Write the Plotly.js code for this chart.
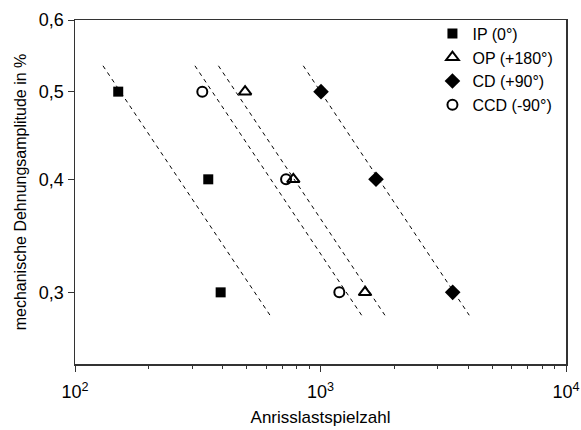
<!DOCTYPE html>
<html>
<head>
<meta charset="utf-8">
<script src="https://cdn.plot.ly/plotly-3.0.1.min.js"></script>
<style>html,body{margin:0;padding:0;background:#fff;}#chart{width:581px;height:430px;}</style>
</head>
<body>
<div id="chart"></div>
<script>
// Measured strain levels (%) and crack-initiation cycles
const strain = [0.5, 0.4, 0.3];
const cyclesIP = [150, 349, 392];
const cyclesOP = [493, 775, 1518];
const cyclesCD = [1005, 1683, 3455];
const cyclesCCD = [330, 724, 1193];

// Dashed fit lines (strain at ends, cycles at ends)
const fitStrain = [0.534, 0.283];
const fitIP = [130, 623];
const fitCCD = [308, 1471];
const fitOP = [384, 1830];
const fitCD = [851, 4036];

// Tick labels
const xTickVals = [100, 1000, 10000];
const xTickText = ['10<sup>2</sup>', '10<sup>3</sup>', '10<sup>4</sup>'];
const xMinorVals = [200, 300, 400, 500, 600, 700, 800, 900, 2000, 3000, 4000, 5000, 6000, 7000, 8000, 9000];
const yTickVals = [0.3, 0.4, 0.5, 0.6];
const yTickText = ['0,3', '0,4', '0,5', '0,6'];
const yMin = 0.25, yMax = 0.6;

const seriesNames = ['IP (0°)', 'OP (+180°)', 'CD (+90°)', 'CCD (-90°)'];

const font = 'Liberation Sans, Arial, sans-serif';
const axisColor = '#333';

function fitLine(xs) {
  return {x: xs, y: fitStrain, mode: 'lines', showlegend: false, hoverinfo: 'skip',
          line: {color: '#000', width: 1, dash: '4px,4px'}};
}

const traces = [
  fitLine(fitIP), fitLine(fitCCD), fitLine(fitOP), fitLine(fitCD),
  {x: cyclesIP, y: strain, mode: 'markers', name: seriesNames[0],
   marker: {symbol: 'square', size: 10, color: '#000'}},
  {x: cyclesOP, y: strain, mode: 'markers', name: seriesNames[1],
   marker: {symbol: 'triangle-up-open', size: 11, color: '#000', line: {width: 2, color: '#000'}}},
  {x: cyclesCD, y: strain, mode: 'markers', name: seriesNames[2],
   marker: {symbol: 'diamond', size: 12, color: '#000'}},
  {x: cyclesCCD, y: strain, mode: 'markers', name: seriesNames[3],
   marker: {symbol: 'circle-open', size: 10, color: '#000', line: {width: 2, color: '#000'}}}
];

const layout = {
  width: 581, height: 430,
  margin: {l: 75, r: 15, t: 20, b: 66},
  paper_bgcolor: '#fff', plot_bgcolor: '#fff',
  font: {family: font, size: 16, color: '#000'},
  showlegend: true,
  legend: {x: 0.728, y: 1.01, xanchor: 'left', yanchor: 'top', bgcolor: 'rgba(0,0,0,0)',
           font: {family: font, size: 16, color: '#000'}, tracegroupgap: 0},
  xaxis: {
    type: 'log', range: [Math.log10(100), Math.log10(10000)],
    tickmode: 'array', tickvals: xTickVals, ticktext: xTickText,
    ticks: 'outside', ticklen: 6, tickwidth: 1, tickcolor: axisColor,
    ticklabelstandoff: 5,
    minor: {tickmode: 'array', tickvals: xMinorVals, ticks: 'outside', ticklen: 3, tickwidth: 1, tickcolor: axisColor, showgrid: false},
    showline: true, linecolor: axisColor, linewidth: 1.5, mirror: true,
    showgrid: false, zeroline: false,
    tickfont: {family: font, size: 18, color: '#000'},
    title: {text: 'Anrisslastspielzahl', font: {family: font, size: 17, color: '#000'}, standoff: 10}
  },
  yaxis: {
    type: 'log', range: [Math.log10(yMin), Math.log10(yMax)],
    tickmode: 'array', tickvals: yTickVals, ticktext: yTickText,
    ticks: 'outside', ticklen: 6, tickwidth: 1, tickcolor: axisColor,
    showline: true, linecolor: axisColor, linewidth: 1.5, mirror: true,
    showgrid: false, zeroline: false,
    tickfont: {family: font, size: 18, color: '#000'},
    title: {text: 'mechanische Dehnungsamplitude in %', font: {family: font, size: 16, color: '#000'}, standoff: 8}
  }
};

Plotly.newPlot('chart', traces, layout, {displayModeBar: false, staticPlot: true});
</script>
</body>
</html>
